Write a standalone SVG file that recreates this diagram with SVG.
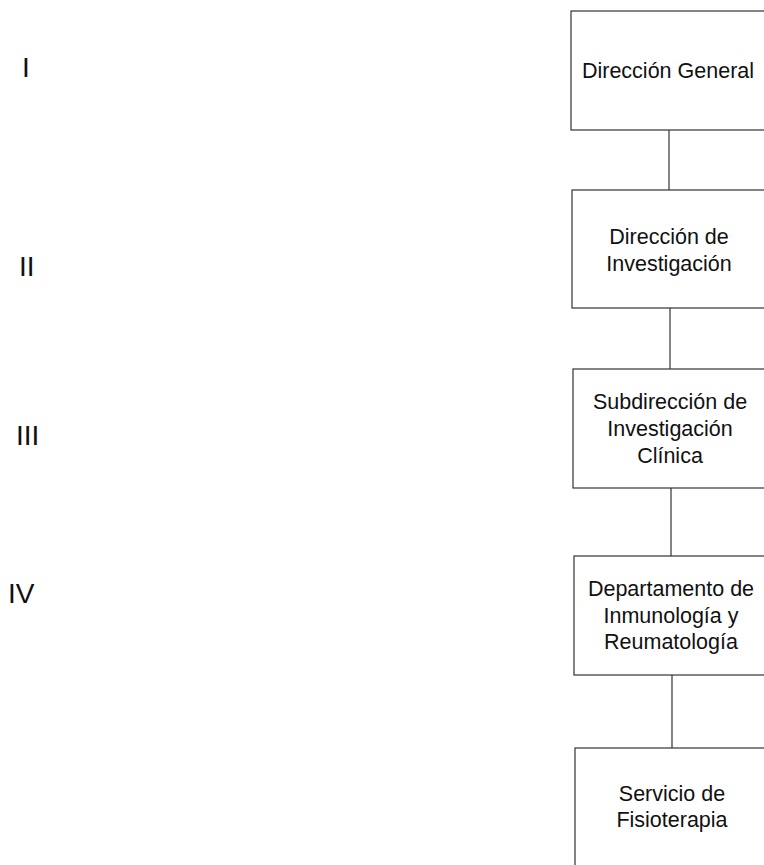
<svg xmlns="http://www.w3.org/2000/svg" width="764" height="865" viewBox="0 0 764 865">
<style>
.box{fill:#fff;stroke:#333;stroke-width:1.2}
.t{font-family:"Liberation Sans",Arial,sans-serif;font-size:21.5px;fill:#111;text-anchor:middle}
.n{font-family:"Liberation Sans",Arial,sans-serif;font-size:28px;fill:#111}
.c{stroke:#333;stroke-width:1.2;fill:none}
</style>
<rect width="764" height="865" fill="#fff"/>
<g id="levels">
<text class="n" x="22" y="77">I</text>
<text class="n" x="19" y="276">II</text>
<text class="n" x="16" y="445">III</text>
<text class="n" x="8" y="603">IV</text>
</g>
<g id="connectors">
<line class="c" x1="669" y1="130" x2="669" y2="190"/>
<line class="c" x1="670" y1="308" x2="670" y2="369"/>
<line class="c" x1="671" y1="488" x2="671" y2="556"/>
<line class="c" x1="672" y1="675" x2="672" y2="748"/>
</g>
<g id="n1">
<rect class="box" x="571" y="11" width="200" height="119"/>
<text class="t" x="668" y="78">Dirección General</text>
</g>
<g id="n2">
<rect class="box" x="572" y="190" width="200" height="118"/>
<text class="t" x="669" y="244">Dirección de</text>
<text class="t" x="669" y="271">Investigación</text>
</g>
<g id="n3">
<rect class="box" x="573" y="369" width="200" height="119"/>
<text class="t" x="670" y="409">Subdirección de</text>
<text class="t" x="670" y="436">Investigación</text>
<text class="t" x="670" y="463">Clínica</text>
</g>
<g id="n4">
<rect class="box" x="574" y="556" width="200" height="119"/>
<text class="t" x="671" y="596">Departamento de</text>
<text class="t" x="671" y="623">Inmunología y</text>
<text class="t" x="671" y="649">Reumatología</text>
</g>
<g id="n5">
<rect class="box" x="575" y="748" width="200" height="130"/>
<text class="t" x="672" y="801">Servicio de</text>
<text class="t" x="672" y="827">Fisioterapia</text>
</g>
</svg>
